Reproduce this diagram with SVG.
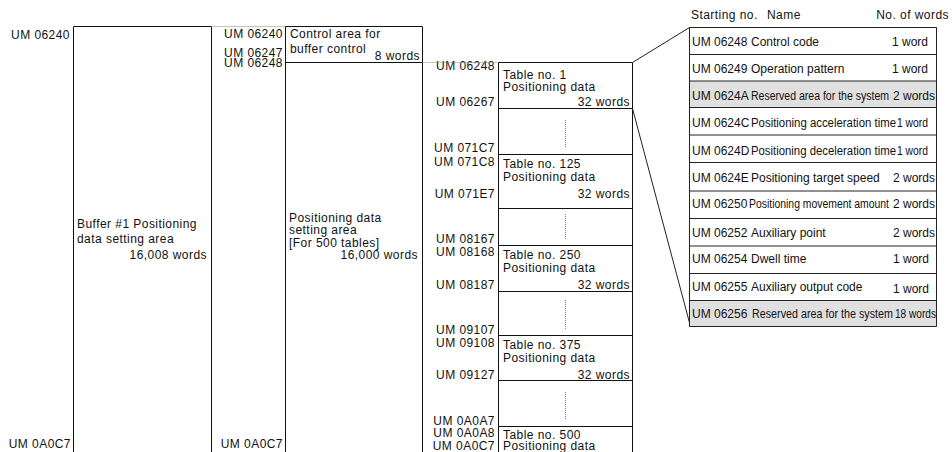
<svg xmlns="http://www.w3.org/2000/svg" width="952" height="452" viewBox="0 0 952 452">
<style>
text{font-family:"Liberation Sans",Arial,sans-serif;font-size:12px;letter-spacing:0.45px;fill:#111}
.r{text-anchor:end}
.s{letter-spacing:0}
.box{fill:none;stroke:#111;stroke-width:1}
.dot{fill:none;stroke:#888;stroke-width:1;stroke-dasharray:1 1}
.ln{fill:none;stroke:#222;stroke-width:1}
.gray{fill:#e0e0e0}
</style>
<rect width="952" height="452" fill="#fff"/>

<g id="buffer-area">
<path class="box" d="M73.5,452 V26.5 H211.5 V452"/>
<text x="70" y="39" class="r">UM 06240</text>
<text x="71" y="448" class="r">UM 0A0C7</text>
<text x="77" y="228">Buffer #1 Positioning</text>
<text x="77" y="243">data setting area</text>
<text x="207" y="259" class="r">16,008 words</text>
</g>

<g id="control-and-positioning-area">
<path class="box" d="M285.5,452 V26.5 H422.5 V452 M285.5,62.5 H422.5"/>
<text x="283" y="37.5" class="r">UM 06240</text>
<text x="283" y="57" class="r">UM 06247</text>
<text x="283" y="67" class="r">UM 06248</text>
<text x="283" y="448" class="r">UM 0A0C7</text>
<text x="290" y="38">Control area for</text>
<text x="290" y="52.5">buffer control</text>
<text x="420" y="60" class="r">8 words</text>
<text x="289" y="222">Positioning data</text>
<text x="289" y="234">setting area</text>
<text x="289" y="247">[For 500 tables]</text>
<text x="418" y="259" class="r">16,000 words</text>
</g>

<g id="tables">
<path class="box" d="M498.5,452 V62.5 H632.5 V452 M498.5,108.5 H632.5 M498.5,154.5 H632.5 M498.5,208.5 H632.5 M498.5,245.5 H632.5 M498.5,291.5 H632.5 M498.5,335.5 H632.5 M498.5,380.5 H632.5 M498.5,426.5 H632.5"/>
<path class="dot" d="M565.5,120 V148 M565.5,214 V240 M565.5,300 V330 M565.5,392 V420"/>
<text x="495" y="70" class="r">UM 06248</text>
<text x="495" y="106" class="r">UM 06267</text>
<text x="495" y="152" class="r">UM 071C7</text>
<text x="495" y="166" class="r">UM 071C8</text>
<text x="495" y="198" class="r">UM 071E7</text>
<text x="495" y="243" class="r">UM 08167</text>
<text x="495" y="256" class="r">UM 08168</text>
<text x="495" y="289" class="r">UM 08187</text>
<text x="495" y="334" class="r">UM 09107</text>
<text x="495" y="347" class="r">UM 09108</text>
<text x="495" y="379" class="r">UM 09127</text>
<text x="495" y="425" class="r">UM 0A0A7</text>
<text x="495" y="437" class="r">UM 0A0A8</text>
<text x="495" y="450" class="r">UM 0A0C7</text>

<text x="503" y="79">Table no. 1</text>
<text x="503" y="91">Positioning data</text>
<text x="630" y="106" class="r">32 words</text>

<text x="503" y="168">Table no. 125</text>
<text x="503" y="181">Positioning data</text>
<text x="630" y="198" class="r">32 words</text>

<text x="503" y="259">Table no. 250</text>
<text x="503" y="272">Positioning data</text>
<text x="630" y="289" class="r">32 words</text>

<text x="503" y="349">Table no. 375</text>
<text x="503" y="362">Positioning data</text>
<text x="630" y="379" class="r">32 words</text>

<text x="503" y="439">Table no. 500</text>
<text x="503" y="450">Positioning data</text>
</g>

<g id="connectors">
<path class="dot" d="M211.5,26.5 H285.5 M422.5,62.5 H498.5"/>
<path class="ln" d="M632.5,62.5 L689.5,27.5 M632.5,108.5 L690.5,326.5"/>
</g>

<g id="detail-table">
<text x="691" y="19">Starting no.</text>
<text x="767" y="19">Name</text>
<text x="949" y="19" class="r">No. of words</text>
<rect class="gray" x="689.5" y="81" width="247" height="26"/>
<rect class="gray" x="689.5" y="300.5" width="247" height="26"/>
<path class="ln" d="M689.5,27.5 H936.5 V326.5 H689.5 Z M689.5,54.5 H936.5 M689.5,81 H936.5 M689.5,107.5 H936.5 M689.5,135 H936.5 M689.5,162.5 H936.5 M689.5,191 H936.5 M689.5,218.5 H936.5 M689.5,246 H936.5 M689.5,273.5 H936.5 M689.5,300.5 H936.5"/>

<text x="692" y="45.5" class="s">UM 06248</text>
<text x="751" y="45.5" class="s">Control code</text>
<text x="928" y="45.5" class="s r">1 word</text>

<text x="692" y="73" class="s">UM 06249</text>
<text x="751" y="73" class="s">Operation pattern</text>
<text x="928" y="73" class="s r">1 word</text>

<text x="692" y="100" class="s">UM 0624A</text>
<text x="751" y="100" class="s" textLength="138" lengthAdjust="spacingAndGlyphs">Reserved area for the system</text>
<text x="935" y="100" class="s r">2 words</text>

<text x="692" y="127" class="s">UM 0624C</text>
<text x="751" y="127" class="s" textLength="145" lengthAdjust="spacingAndGlyphs">Positioning acceleration time</text>
<text x="897" y="127" class="s" textLength="31" lengthAdjust="spacingAndGlyphs">1 word</text>

<text x="692" y="155" class="s">UM 0624D</text>
<text x="751" y="155" class="s" textLength="145" lengthAdjust="spacingAndGlyphs">Positioning deceleration time</text>
<text x="897" y="155" class="s" textLength="31" lengthAdjust="spacingAndGlyphs">1 word</text>

<text x="692" y="181.5" class="s">UM 0624E</text>
<text x="751" y="181.5" class="s">Positioning target speed</text>
<text x="935" y="181.5" class="s r">2 words</text>

<text x="692" y="208" class="s">UM 06250</text>
<text x="749" y="208" class="s" textLength="140" lengthAdjust="spacingAndGlyphs">Positioning movement amount</text>
<text x="935" y="208" class="s r">2 words</text>

<text x="692" y="236.5" class="s">UM 06252</text>
<text x="751" y="236.5" class="s">Auxiliary point</text>
<text x="935" y="236.5" class="s r">2 words</text>

<text x="692" y="263" class="s">UM 06254</text>
<text x="751" y="263" class="s">Dwell time</text>
<text x="929" y="263" class="s r">1 word</text>

<text x="692" y="291" class="s">UM 06255</text>
<text x="751" y="291" class="s">Auxiliary output code</text>
<text x="929" y="293" class="s r">1 word</text>

<text x="692" y="318" class="s">UM 06256</text>
<text x="752" y="318" class="s" textLength="141" lengthAdjust="spacingAndGlyphs">Reserved area for the system</text>
<text x="895" y="318" class="s" textLength="41" lengthAdjust="spacingAndGlyphs">18 words</text>
</g>
</svg>
